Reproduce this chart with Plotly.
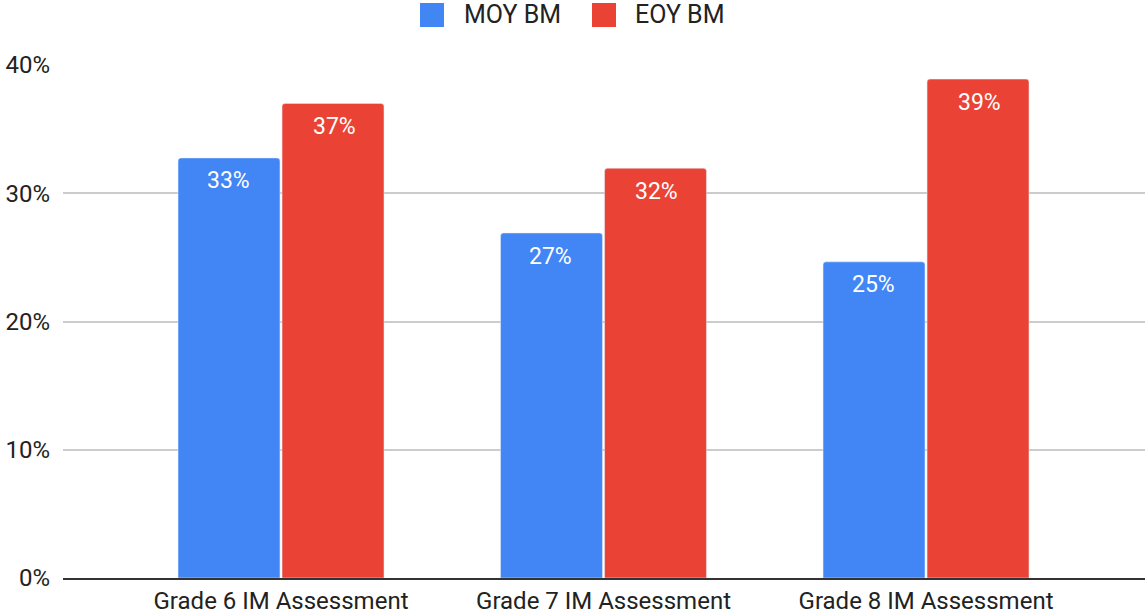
import plotly.graph_objects as go

categories = ["Grade 6 IM Assessment", "Grade 7 IM Assessment", "Grade 8 IM Assessment"]
series_names = ["MOY BM", "EOY BM"]
moy_bm = [0.3275, 0.269, 0.2465]
eoy_bm = [0.370, 0.3195, 0.389]
y_ticks = [0, 0.1, 0.2, 0.3, 0.4]
y_tick_labels = ["0%", "10%", "20%", "30%", "40%"]

font_family = "Roboto, Arial, sans-serif"
colors = ["#4285F4", "#EA4335"]
W, H = 1145, 613

fig = go.Figure()
for name, vals, col in zip(series_names, [moy_bm, eoy_bm], colors):
    fig.add_trace(go.Bar(
        name=name, x=categories, y=vals, marker_color=col, showlegend=False,
        hoverinfo="x+y",
    ))

# plot area in pixels
pl, pr, pt, pb = 63, W, 65, H - 35
pw, ph = pr - pl, pb - pt
def px_to_paper_x(px):
    return (px - pl) / pw
def px_to_paper_y(py):
    return (pb - py) / ph

# data labels, inside bar tops
ann = []
offsets = [-53, 53]
for vals, dx in zip([moy_bm, eoy_bm], offsets):
    for c, v in zip(categories, vals):
        ann.append(dict(x=c, y=v, xref="x", yref="y", text=f"{v:.0%}", showarrow=False,
                        xshift=dx, yshift=-23, yanchor="middle", xanchor="center",
                        font=dict(size=23, color="white", family=font_family)))

# custom legend (large squares like the reference)
legend_items = [(420, 462), (592, 633)]
shapes = []
for (sx, tx), name, col in zip(legend_items, series_names, colors):
    shapes.append(dict(type="rect", xref="paper", yref="paper",
                       x0=px_to_paper_x(sx), x1=px_to_paper_x(sx + 24),
                       y0=px_to_paper_y(27), y1=px_to_paper_y(3),
                       fillcolor=col, line=dict(width=0)))
    ann.append(dict(text=name, xref="paper", yref="paper", x=px_to_paper_x(tx), y=px_to_paper_y(15),
                    xanchor="left", yanchor="middle", showarrow=False,
                    font=dict(size=25, color="#222222", family=font_family)))

fig.update_layout(
    width=W, height=H,
    margin=dict(l=pl, r=W - pr, t=pt, b=H - pb, autoexpand=False),
    paper_bgcolor="white", plot_bgcolor="white",
    barmode="group", bargap=0.355, bargroupgap=0.02,
    barcornerradius=3,
    font=dict(family=font_family, size=24, color="#222222"),
    showlegend=False,
    shapes=shapes, annotations=ann,
)

fig.update_xaxes(
    type="category", range=[-0.676, 2.679], automargin=False,
    showline=True, linecolor="#333333", linewidth=2,
    showgrid=False, ticks="", tickfont=dict(size=24, color="#222222"),
)
fig.update_yaxes(
    range=[0, 0.4], tickvals=y_ticks, ticktext=y_tick_labels, automargin=False,
    showgrid=True, gridcolor="#CCCCCC", gridwidth=1.5,
    zeroline=False, ticks="", ticklabelstandoff=12,
    tickfont=dict(size=24, color="#222222"),
)

fig.write_html("out.html", config={"displayModeBar": False},
               post_script="document.body.style.margin='0';document.body.style.overflow='hidden';")
